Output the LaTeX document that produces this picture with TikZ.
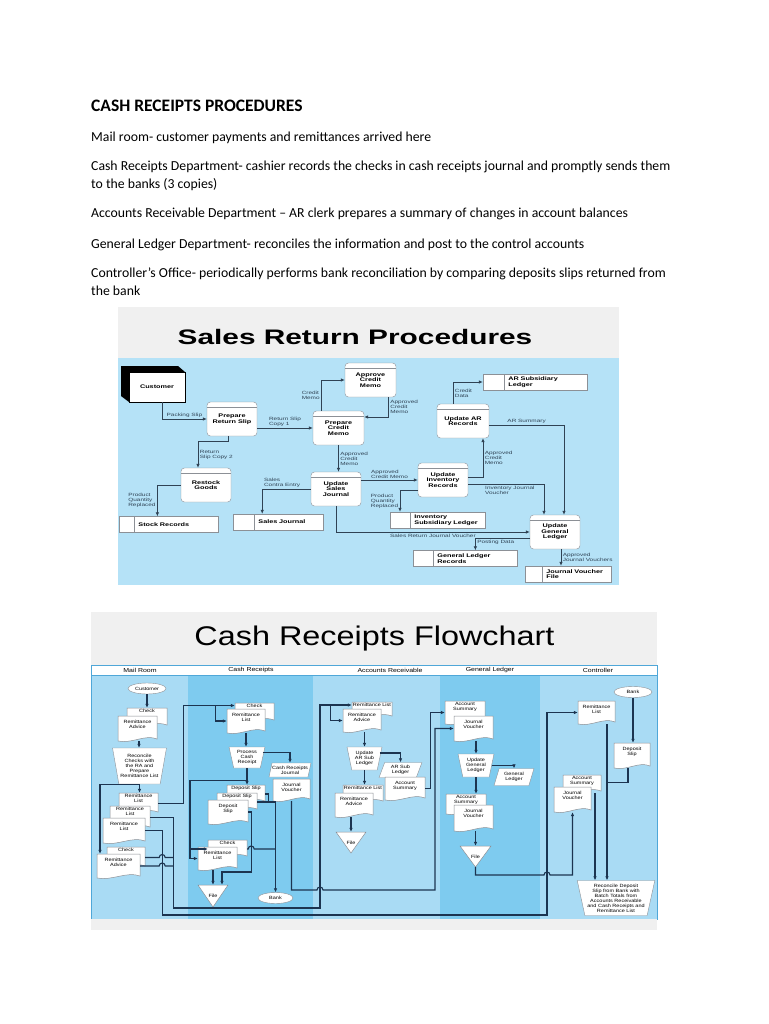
\documentclass[tikz,border=0pt]{standalone}
\usepackage{fontspec}
\setmainfont{Carlito}
\newfontfamily\srfont[FakeStretch=1.4]{Liberation Sans}
\newfontfamily\srtitle[FakeStretch=1.42]{Liberation Sans}
\newfontfamily\fcfont[FakeStretch=1.2]{Liberation Sans}
\usetikzlibrary{arrows.meta,positioning,calc,shapes.geometric}
\definecolor{SkyBlue}{HTML}{B5E2F7}
\definecolor{BandGray}{HTML}{F0F0F0}
\definecolor{LaneLight}{HTML}{A9DBF4}
\definecolor{LaneDark}{HTML}{7ECBEF}
\definecolor{LaneEdge}{HTML}{4FA7D8}
\definecolor{FlowInk}{HTML}{1C3450}
\definecolor{DfdInk}{HTML}{2F4254}
\definecolor{BoxEdge}{HTML}{8C9096}

\tikzset{
  para/.style={anchor=base west,inner sep=0,font=\fontsize{13.75}{16}\selectfont},
  proc/.style={draw=BoxEdge,fill=white,rounded corners=3.5,minimum width=50,
    minimum height=34,inner sep=1,align=center,
    font=\srfont\bfseries\fontsize{5.2}{5.6}\selectfont,
    path picture={\draw[BoxEdge] ([yshift=-5]path picture bounding box.north west)
      -- ([yshift=-5]path picture bounding box.north east);}},
  dfdlbl/.style={font=\srfont\fontsize{4.6}{5}\selectfont,text=DfdInk,inner sep=1.5,align=left},
  dfd/.style={draw=DfdInk,line width=0.7,-{Latex[length=4pt,width=3.5pt]}},
  storecell/.style={draw=BoxEdge,fill=white,minimum height=16,minimum width=#1,inner sep=0},
  storebody/.style={draw=BoxEdge,fill=white,minimum height=16,text width=#1,inner xsep=4,
    inner ysep=0,align=left,font=\srfont\bfseries\fontsize{5.2}{5.6}\selectfont},
  docline/.style={draw=BoxEdge,fill=white,line width=0.5},
  doctxt/.style={font=\fcfont\fontsize{4.6}{5}\selectfont,inner sep=0},
  manop/.style={trapezium,trapezium stretches=true,shape border rotate=180,
    trapezium angle=76,draw=BoxEdge,fill=white,inner sep=0,align=center,doctxt},
  ledger/.style={trapezium,trapezium left angle=70,trapezium right angle=110,
    trapezium stretches=true,draw=BoxEdge,fill=white,inner sep=0,align=center,doctxt},
  term/.style={ellipse,draw=BoxEdge,fill=white,minimum width=38,minimum height=11,
    inner sep=0,doctxt},
  lanehead/.style={font=\fcfont\fontsize{5.8}{6}\selectfont,inner sep=0},
  flowarrow/.style={draw=FlowInk,line width=1.1,-{Latex[length=4pt,width=3.6pt]}},
  flowline/.style={draw=FlowInk,line width=1.1}
}

% document symbol: name, x1, y1, x2, y2, text (optional top gap)
\newcommand\fcdoc[7][1.5]{%
  \filldraw[docline] (#3,#4) -- (#5,#4) -- (#5,#6-2)
    .. controls ({0.3*#3+0.7*#5},#6-7) and ({0.65*#3+0.35*#5},#6+3) .. (#3,#6) -- cycle;
  \node[doctxt] (#2) at ({(#3+#5)/2},{(#4+#6)/2})
    {\parbox[c][\dimexpr#6pt-#4pt\relax][t]{\dimexpr#5pt-#3pt\relax}{\centering\vspace*{#1pt}#7}};}
% file symbol: name, x1, x2, y1, y2
\newcommand\fcfile[5]{%
  \filldraw[docline] (#2,#4) -- (#3,#4) -- ({(#2+#3)/2},#5) -- cycle;
  \node[doctxt,minimum width={(#3-#2)*1pt},minimum height={(#5-#4)*1pt}] (#1)
    at ({(#2+#3)/2},{(#4+#5)/2}) {File};}

\begin{document}
\begin{tikzpicture}[x=1pt,y=-1pt]
  \useasboundingbox (0,0) rectangle (768,1024);
  \fill[white] (0,0) rectangle (768,1024);

  % text part
  \node[para,font=\bfseries\fontsize{17.5}{20}\selectfont] (hd) at (91,112) {CASH RECEIPTS PROCEDURES};
  \node[para] (p1) at (91,142) {Mail room- customer payments and remittances arrived here};
  \node[para] (p2) at (91,171) {Cash Receipts Department- cashier records the checks in cash receipts journal and promptly sends them};
  \node[para] (p2b) at (91,189) {to the banks (3 copies)};
  \node[para] (p3) at (91,218) {Accounts Receivable Department – AR clerk prepares a summary of changes in account balances};
  \node[para] (p4) at (91,248) {General Ledger Department- reconciles the information and post to the control accounts};
  \node[para] (p5) at (91,277) {Controller’s Office- periodically performs bank reconciliation by comparing deposits slips returned from};
  \node[para] (p5b) at (91,295) {the bank};

  % sales return procedures
  \fill[BandGray] (118,307) rectangle (619,358);
  \fill[SkyBlue] (118,358) rectangle (619,585);
  \node[font=\srtitle\bfseries\fontsize{21}{21}\selectfont] (srTitle) at (355,337) {Sales Return Procedures};

  \fill (121,366) -- (178,366) -- (185,372) -- (129,372) -- (129,402) -- (121,396) -- cycle;
  \node[draw,fill=white,minimum width=56,minimum height=30,inner sep=0,
    font=\srfont\bfseries\fontsize{5.2}{5.6}\selectfont] (cust) at (157,387) {Customer};
  \node[proc] (prs) at (232,419) {Prepare\\Return Slip};
  \node[proc,minimum width=51] (pcm) at (338.5,428) {Prepare\\Credit\\Memo};
  \node[proc,minimum width=51] (acm) at (370.5,380) {Approve\\Credit\\Memo};
  \node[proc] (usj) at (336,489) {Update\\Sales\\Journal};
  \node[proc] (rsg) at (206,485) {Restock\\Goods};
  \node[proc] (uir) at (443,480) {Update\\Inventory\\Records};
  \node[proc,minimum width=52] (uar) at (463,421) {Update AR\\Records};
  \node[proc] (ugl) at (555,532) {Update\\General\\Ledger};

  \node[storecell=15] (srC) at (126.5,524.5) {};
  \node[storebody=76,right=0pt of srC] (sr) {Stock Records};
  \node[storecell=21] (sjC) at (243.5,522) {};
  \node[storebody=61,right=0pt of sjC] (sj) {Sales Journal};
  \node[storecell=20] (islC) at (400,520) {};
  \node[storebody=67,right=0pt of islC] (isl) {Inventory\\Subsidiary Ledger};
  \node[storecell=20] (glrC) at (423,558.5) {};
  \node[storebody=76,right=0pt of glrC] (glr) {General Ledger\\Records};
  \node[storecell=21] (arslC) at (493.5,382) {};
  \node[storebody=75,right=0pt of arslC] (arsl) {AR Subsidiary\\Ledger};
  \node[storecell=17] (jvfC) at (533.5,574) {};
  \node[storebody=61,right=0pt of jvfC] (jvf) {Journal Voucher\\File};

  \draw[dfd] ([xshift=5]cust.south) |- (prs.west) node[dfdlbl,pos=0.75,above] {Packing Slip};
  \draw[dfd] (prs.east |- pcm.west) -- (pcm.west) node[dfdlbl,midway,above] {Return Slip\\Copy 1};
  \draw[dfd] ([xshift=-17]pcm.north) |- (acm.west) node[dfdlbl,pos=0.25,left] {Credit\\Memo};
  \draw[dfd] ([xshift=18]acm.south) |- ([yshift=11]pcm.east) node[dfdlbl,pos=0.25,right] {Approved\\Credit\\Memo};
  \draw[dfd] (pcm.south) -- (pcm.south |- usj.north) node[dfdlbl,midway,right] {Approved\\Credit\\Memo};
  \draw[dfd] (usj.west) -| ([xshift=8]sj.north west) node[dfdlbl,pos=0.5,above right] {Sales\\Contra Entry};
  \draw[dfd] (usj.east |- uir.west) -- (uir.west) node[dfdlbl,midway,above] {Approved\\Credit Memo};
  \draw[dfd] ([yshift=3]uir.east) -| ([xshift=20]uar.south) node[dfdlbl,pos=0.75,right] {Approved\\Credit\\Memo};
  \draw[dfd] ([yshift=-4]uir.east) -| ([xshift=-11]ugl.north) node[dfdlbl,pos=0.1,below right] {Inventory Journal\\Voucher};
  \draw[dfd] ([yshift=-4]uar.east) -| ([xshift=9]ugl.north) node[dfdlbl,pos=0.25,above] {AR Summary};
  \draw[dfd] ([yshift=-10]uir.west) -| (islC.north) node[dfdlbl,pos=0.75,left] {Product\\Quantity\\Replaced};
  \draw[dfd] ([xshift=-10]uar.north) |- (arslC.west) node[dfdlbl,pos=0.25,right] {Credit\\Data};
  \draw[dfd] (usj.south) |- (ugl.west) node[dfdlbl,pos=0.75,below] {Sales Return Journal Voucher};
  \draw[dfd] ([yshift=-6]ugl.west) -| (glr.north) node[dfdlbl,pos=0.5,below right] {Posting Data};
  \draw[dfd] ([xshift=6]ugl.south) -- ([xshift=6]ugl.south |- jvf.north) node[dfdlbl,midway,right] {Approved\\Journal Vouchers};
  \draw[dfd] ([xshift=-4]prs.south) -- ++(0,5) -| ([xshift=-8]rsg.north) node[dfdlbl,pos=0.75,right] {Return\\Slip Copy 2};
  \draw[dfd] (rsg.west) -| ([xshift=-19]sr.north) node[dfdlbl,pos=0.75,left] {Product\\Quantity\\Replaced};

  % cash receipts flowchart
  \fill[BandGray] (91,612) rectangle (657,665);
  \node[font=\fcfont\fontsize{27}{27}\selectfont] (fcTitle) at (374.5,639) {Cash Receipts Flowchart};
  \fill[white] (91,665) rectangle (657,675);
  \fill[LaneLight] (91,675) rectangle (188,919);
  \fill[LaneDark] (188,675) rectangle (313,919);
  \fill[LaneLight] (313,675) rectangle (440,919);
  \fill[LaneDark] (440,675) rectangle (540,919);
  \fill[LaneLight] (540,675) rectangle (657,919);
  \draw[LaneEdge,line width=0.6] (91,665) rectangle (657,919);
  \draw[LaneEdge,line width=0.6] (91,675) -- (657,675);
  \fill[BandGray] (91,919.3) rectangle (657,930);
  \node[lanehead] (lnMail) at (140,670) {Mail Room};
  \node[lanehead] (lnCash) at (251,670) {Cash Receipts};
  \node[lanehead] (lnAR) at (390,670) {Accounts Receivable};
  \node[lanehead] (lnGL) at (490,670) {General Ledger};
  \node[lanehead] (lnCtl) at (598,670) {Controller};

  % mail room
  \node[term] (mrCust) at (147,688.5) {Customer};
  \fcdoc{mrChk}{127}{708}{167}{727}{Check}
  \fcdoc[4]{mrRA}{118}{716}{157}{741}{Remittance\\Advice}
  \node[manop,minimum width=54,minimum height=36] (mrRec) at (139.5,766)
    {Reconcile\\Checks with\\the RA and\\Prepare\\Remittance List};
  \fcdoc{mrRL1}{119}{793}{158}{814}{Remittance\\List}
  \fcdoc{mrRL2}{110}{806}{150}{829}{Remittance\\List}
  \fcdoc[4]{mrRL3}{103}{818}{145}{843}{Remittance\\List}
  \fcdoc{mrChk2}{107}{847}{145}{868}{Check}
  \fcdoc[4]{mrRA2}{97}{854}{140}{878}{Remittance\\Advice}

  % cash receipts
  \fcdoc{crChk}{235}{703}{274}{722}{Check}
  \fcdoc[4]{crRL}{227}{709}{265}{733}{Remittance\\List}
  \node[manop,minimum width=36,minimum height=21] (crPro) at (247,757.5) {Process\\Cash\\Receipt};
  \node[ledger,minimum width=40,minimum height=14] (crCRJ) at (290,770) {Cash Receipts\\Journal};
  \fcdoc[4]{crJV}{273}{779}{310}{801}{Journal\\Voucher}
  \fcdoc{crDS1}{227}{785}{265}{803}{Deposit Slip}
  \fcdoc{crDS2}{217}{793}{257}{811}{Deposit Slip}
  \fcdoc[4]{crDS3}{208}{800}{248}{824}{Deposit\\Slip}
  \fcdoc{crChk2}{208}{840}{247}{858}{Check}
  \fcdoc[4]{crRL2}{198}{847}{237}{870}{Remittance\\List}
  \fcfile{crFile}{198}{228}{885}{907}
  \node[term,minimum width=35] (crBank) at (275.5,898) {Bank};

  % accounts receivable
  \fcdoc{arRL}{352}{702}{392}{718}{Remittance List}
  \fcdoc[4]{arRA}{343}{709}{381}{732}{Remittance\\Advice}
  \node[manop,minimum width=35,minimum height=23] (arUpd) at (364.5,758.5) {Update\\AR Sub\\Ledger};
  \node[ledger,minimum width=43,minimum height=15] (arSub) at (400.5,770) {AR Sub\\Ledger};
  \fcdoc[4]{arAS}{385}{777}{425}{800}{Account\\Summary}
  \fcdoc{arRL2}{343}{785}{383}{803}{Remittance List}
  \fcdoc[4]{arRA2}{335}{793}{373}{817}{Remittance\\Advice}
  \fcfile{arFile}{336}{366}{832}{853}

  % general ledger
  \fcdoc{glAS}{445}{701}{485}{724}{Account\\Summary}
  \fcdoc[4]{glJV}{454}{716}{493}{741}{Journal\\Voucher}
  \node[manop,minimum width=36,minimum height=23] (glUpd) at (476,765.5) {Update\\General\\Ledger};
  \node[ledger,minimum width=40,minimum height=17] (glGL) at (514,777) {General\\Ledger};
  \fcdoc{glAS2}{446}{794}{486}{814}{Account\\Summary}
  \fcdoc[4]{glJV2}{454}{805}{493}{831}{Journal\\Voucher}
  \fcfile{glFile}{460}{491}{846}{867}

  % controller
  \node[term] (ctBank) at (633,692) {Bank};
  \fcdoc[4]{ctRL}{578}{701}{615}{724}{Remittance\\List}
  \fcdoc[4]{ctDS}{614}{743}{650}{768}{Deposit\\Slip}
  \fcdoc{ctAS}{563}{775}{601}{793}{Account\\Summary}
  \fcdoc[4]{ctJV}{554}{787}{591}{812}{Journal\\Voucher}
  \node[manop,minimum width=78,minimum height=35] (ctRec) at (616,898)
    {Reconcile Deposit\\Slip from Bank with\\Batch Totals from\\Accounts Receivable\\and Cash Receipts and\\Remittance List};

  % bends of the long flows
  \coordinate (bAR) at (320,908);
  \coordinate (bCT) at (547,915);
  \coordinate (bJV) at (435,890);
  \coordinate (bFL) at (547,875);
  \coordinate (bCR) at (190,858.5);
  \coordinate (bF1) at (222,872);
  \coordinate (ctTap) at ($(ctRL.south)+(10.5,0)$);

  % mail room flows
  \draw[flowarrow] (mrCust.south) -- (mrCust.south |- mrChk.north);
  \draw[flowarrow] ([xshift=1.5]mrRA.south) -- ([xshift=1.5]mrRA.south |- mrRec.north);
  \draw[flowarrow] (mrRec.south) -- (mrRec.south |- mrRL1.north);
  \draw[flowarrow] (mrRec.south) -| ([xshift=-18.5]mrRA2.north);
  \draw[flowarrow] (mrRL1.east) -- ++(25,0) |- ([yshift=7]crChk.west);
  \draw[flowarrow] ($(crChk.west)+(-19,-7)$) |- (crRL.west);
  \draw[flowarrow] (mrRL2.east) -- ++(23,0) |- (bAR) |- ([yshift=5]arRL.west);
  \draw[flowarrow] ($(arRL.west)+(-21,-5)$) |- (arRA.west);
  \draw[flowarrow] (mrRL3.east) -- ++(17,0) |- (bCT) |- (ctRL.west);
  \draw[flowline] (mrChk2.east) -- ++(14,0) arc[start angle=180,end angle=360,radius=3] -- ++(8,0);
  \draw[flowline] (mrRA2.east) -- ++(19,0) arc[start angle=180,end angle=360,radius=3] -- ++(8,0);

  % cash receipts flows
  \draw[flowarrow] (crRL.south) -- (crRL.south |- crPro.north);
  \draw[flowarrow] ([yshift=5]crPro.east) -| (crCRJ.north);
  \draw[flowarrow] (crPro.south) -- (crPro.south |- crDS1.north);
  \draw[flowline] ($(crPro.south)+(0,12)$) -| (bCR);
  \draw[flowarrow] (bCR) -- (crRL2.west);
  \draw[flowarrow] (bCR |- crChk2.west) -- (crChk2.west);
  \draw[flowarrow] (crJV.south) |- ($(bJV -| bAR)+(-3,0)$) arc[start angle=180,end angle=360,radius=3]
    -- (bJV) |- (glJV.west);
  \draw[flowline] (crDS1.east) -| ($(crDS2.east)+(11,0)$);
  \draw[flowarrow] (crDS2.east) -| (crBank.north);
  \draw[flowline] (crChk2.east) -- ++(1,0) arc[start angle=180,end angle=360,radius=3]
    -- (crBank.north |- crChk2.east);
  \draw[flowarrow] (crDS3.east) -- ++(3,0) |- (bF1) -- (bF1 |- crFile.north);
  \draw[flowarrow] (crFile.north |- crRL2.south) -- (crFile.north);

  % accounts receivable flows
  \draw[flowarrow] (arUpd.north |- arRA.south) -- (arUpd.north);
  \draw[flowarrow] ([yshift=5.5]arUpd.east) -| (arSub.north);
  \draw[flowarrow] (arUpd.south) -- (arUpd.south |- arRL2.north);
  \draw[flowarrow] (arFile.north |- arRA2.south) -- (arFile.north);
  \draw[flowarrow] (arAS.east) -- ++(5,0) |- (glAS.west);

  % general ledger flows
  \draw[flowarrow] (glUpd.north |- glJV.south) -- (glUpd.north);
  \draw[flowarrow] (glUpd.east) -| (glGL.north);
  \draw[flowarrow] (glUpd.south) -- (glUpd.south |- glAS2.north);
  \draw[flowarrow] (glFile.north |- glJV2.south) -- (glFile.north);
  \draw[flowarrow] (glFile.south) |- ($(bFL)+(-3,0)$) arc[start angle=180,end angle=360,radius=3]
    -| (ctJV.south);

  % controller flows
  \draw[flowarrow] (ctBank.south) -- (ctBank.south |- ctDS.north);
  \draw[flowarrow] (ctTap) -- (ctTap |- ctRec.north);
  \draw[flowline] ([xshift=-4]ctDS.south) |- ($(ctTap)+(0,58)$);
  \draw[flowarrow] ([xshift=13]ctAS.south) -- ([xshift=13]ctAS.south |- ctRec.north);
\end{tikzpicture}
\end{document}
